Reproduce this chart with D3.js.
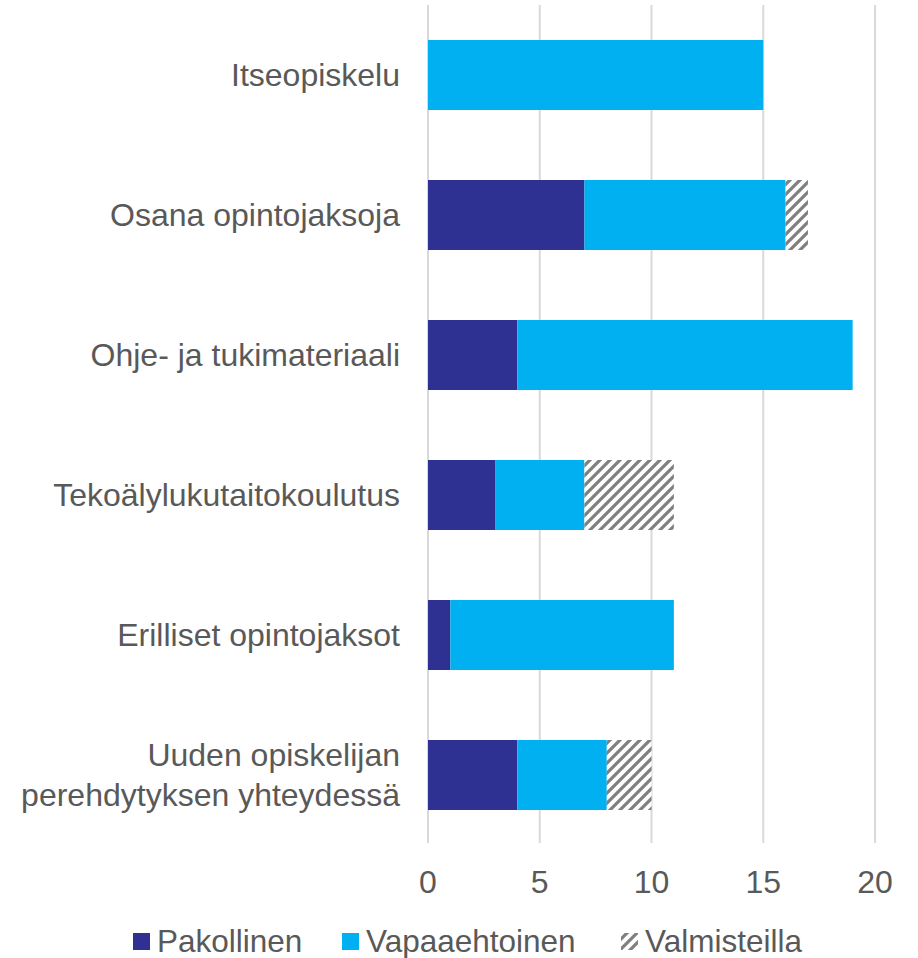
<html>
<head>
<meta charset="utf-8">
<script src="https://d3js.org/d3.v7.min.js"></script>
<style>
  body { margin: 0; background: #fff; }
  text { font-family: "Liberation Sans", Arial, sans-serif; }
</style>
</head>
<body>
<svg id="svg" width="918" height="958"></svg>
<script>
var categories = ["Itseopiskelu", "Osana opintojaksoja", "Ohje- ja tukimateriaali",
                  "Tekoälylukutaitokoulutus", "Erilliset opintojaksot",
                  "Uuden opiskelijan\nperehdytyksen yhteydessä"];
var pakollinen   = [0, 7, 4, 3, 1, 4];
var vapaaehtoinen = [15, 9, 15, 4, 10, 4];
var valmisteilla = [0, 1, 0, 4, 0, 2];
var seriesNames = ["Pakollinen", "Vapaaehtoinen", "Valmisteilla"];
var ticks = [0, 5, 10, 15, 20];

var svg = d3.select("svg");
var textColor = "#595959";
var fontSize = 32;

var defs = svg.append("defs");
var pat = defs.append("pattern").attr("id", "hatch")
    .attr("patternUnits", "userSpaceOnUse").attr("width", 10).attr("height", 10);
pat.append("rect").attr("width", 10).attr("height", 10).attr("fill", "#fff");
pat.append("path").attr("d", "M0,10 L10,0 M-2.5,2.5 L2.5,-2.5 M7.5,12.5 L12.5,7.5")
    .attr("stroke", "#808080").attr("stroke-width", 3.2);

var fills = ["#2E3192", "#00B0F0", "url(#hatch)"];

var x = d3.scaleLinear().domain([0, 20]).range([428, 875]);
var y = d3.scaleBand().domain(categories).range([5, 845]).paddingInner(0.5).paddingOuter(0.25);

// gridlines
svg.append("g").selectAll("line").data(ticks).enter().append("line")
    .attr("x1", function(d){ return x(d); }).attr("x2", function(d){ return x(d); })
    .attr("y1", 5).attr("y2", 843)
    .attr("stroke", "#d9d9d9").attr("stroke-width", 2);

// tick labels
svg.append("g").selectAll("text").data(ticks).enter().append("text")
    .attr("x", function(d){ return x(d); }).attr("y", 893)
    .attr("text-anchor", "middle").attr("font-size", fontSize).attr("fill", textColor)
    .text(function(d){ return d; });

// stacked bars
var data = categories.map(function(c, i){
    return { cat: c, Pakollinen: pakollinen[i], Vapaaehtoinen: vapaaehtoinen[i], Valmisteilla: valmisteilla[i] };
});
var stack = d3.stack().keys(seriesNames)(data);
stack.forEach(function(layer, k){
    svg.append("g").selectAll("rect").data(layer).enter().append("rect")
        .attr("x", function(d){ return x(d[0]); })
        .attr("width", function(d){ return x(d[1]) - x(d[0]); })
        .attr("y", function(d){ return y(d.data.cat); })
        .attr("height", y.bandwidth())
        .attr("fill", fills[k]);
});

// category labels
categories.forEach(function(c){
    var lines = c.split("\n");
    var cy = y(c) + y.bandwidth() / 2;
    var lh = 40;
    var t = svg.append("text").attr("text-anchor", "end").attr("font-size", fontSize)
        .attr("fill", textColor);
    lines.forEach(function(l, i){
        t.append("tspan").attr("x", 400)
         .attr("y", cy + (i - (lines.length - 1) / 2) * lh + 11)
         .text(l);
    });
});

// legend
var legendX = [133, 342, 621];
var lg = svg.append("g");
seriesNames.forEach(function(s, i){
    lg.append("rect").attr("x", legendX[i]).attr("y", 933).attr("width", 17).attr("height", 17)
      .attr("fill", fills[i]);
    lg.append("text").attr("x", legendX[i] + 24).attr("y", 952)
      .attr("font-size", 31.5).attr("fill", textColor).text(s);
});
</script>
</body>
</html>
